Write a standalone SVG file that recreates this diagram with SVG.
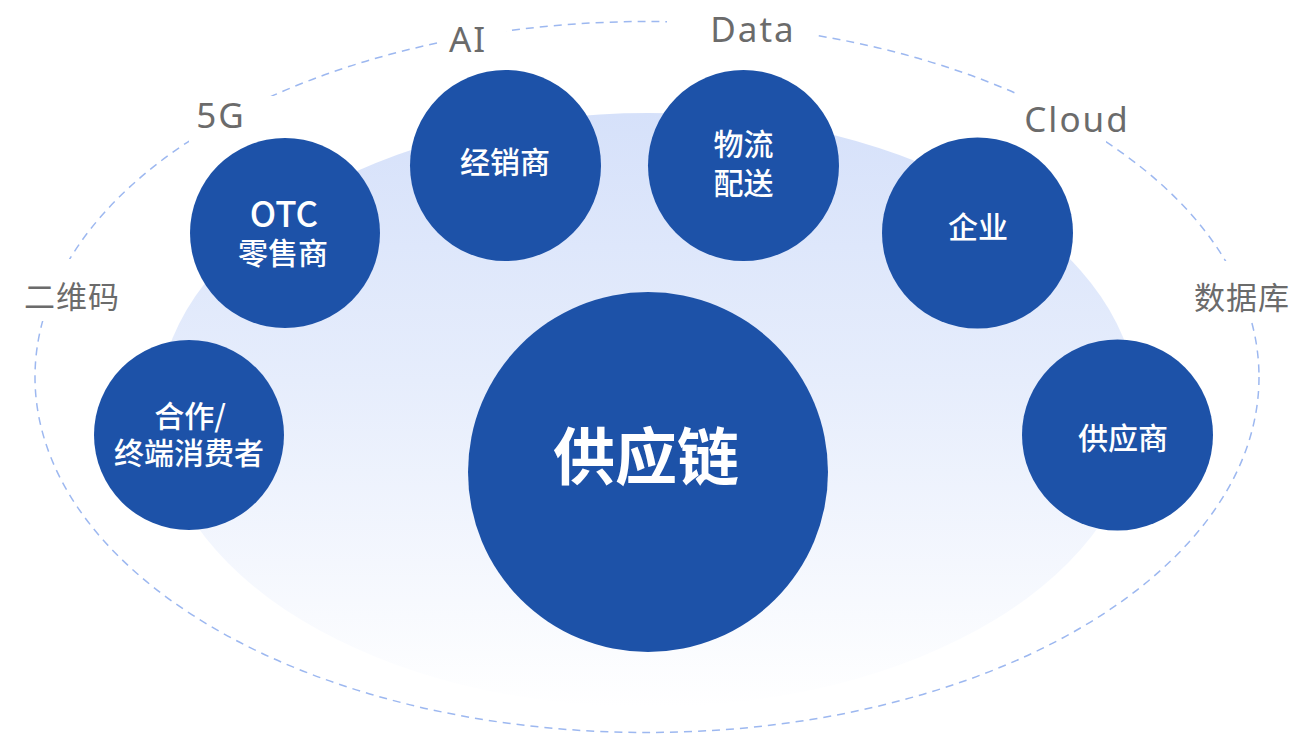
<svg xmlns="http://www.w3.org/2000/svg" width="1296" height="735" viewBox="0 0 1296 735">
  <style>
    .node { fill: #1d52a8; }
    .nt { fill: #ffffff; font-family: "Noto Sans CJK SC", "Noto Sans", sans-serif; font-size: 30px; font-weight: 500; text-anchor: middle; }
    .big { font-size: 62px; font-weight: 700; }
    .lbl { fill: #6b6b6b; font-family: "Noto Sans", "Noto Sans CJK SC", sans-serif; font-size: 35px; text-anchor: middle; letter-spacing: 2px; }
    .lblcn { font-family: "Noto Sans CJK SC", sans-serif; font-size: 31px; letter-spacing: 1px; }
    .ring { fill: none; stroke: #9db8f0; stroke-width: 1.5; stroke-dasharray: 8 6; }
  </style>
  <defs>
    <linearGradient id="bg" x1="0" y1="0" x2="0" y2="1">
      <stop offset="0" stop-color="#d6e1fa"/>
      <stop offset="0.45" stop-color="#e6edfc"/>
      <stop offset="1" stop-color="#ffffff"/>
    </linearGradient>
    <mask id="gaps" maskUnits="userSpaceOnUse" x="0" y="0" width="1296" height="735">
      <rect x="0" y="0" width="1296" height="735" fill="#fff"/>
      <rect x="438" y="8" width="68" height="52" fill="#000"/>
      <rect x="667" y="3" width="151" height="52" fill="#000"/>
      <rect x="189" y="96" width="88" height="46" fill="#000"/>
      <rect x="1016" y="88" width="90" height="56" fill="#000"/>
      <rect x="15" y="259" width="115" height="62" fill="#000"/>
      <rect x="1185" y="261" width="111" height="60" fill="#000"/>
    </mask>
  </defs>

  <g id="background">
    <ellipse cx="648" cy="410" rx="490" ry="297" fill="url(#bg)"/>
    <ellipse class="ring" cx="647" cy="377" rx="612" ry="355.5" mask="url(#gaps)"/>
  </g>

  <g id="connectors"></g>

  <g id="labels">
    <text class="lbl" x="468" y="52">AI</text>
    <text class="lbl" x="753" y="42">Data</text>
    <text class="lbl" x="221" y="128">5G</text>
    <text class="lbl" x="1077" y="132">Cloud</text>
    <text class="lbl lblcn" x="72" y="308">二维码</text>
    <text class="lbl lblcn" x="1242" y="309">数据库</text>
  </g>

  <g id="node-supply-chain">
    <circle class="node" cx="648" cy="472" r="180"/>
    <text class="nt big" x="646" y="480">供应链</text>
  </g>
  <g id="node-consumer">
    <circle class="node" cx="189" cy="435" r="95"/>
    <text class="nt"><tspan x="190" y="427">合作/</tspan><tspan x="189" y="464">终端消费者</tspan></text>
  </g>
  <g id="node-otc">
    <circle class="node" cx="285" cy="233" r="95"/>
    <text class="nt"><tspan x="284" y="227" style="font-size:35px">OTC</tspan><tspan x="283" y="264">零售商</tspan></text>
  </g>
  <g id="node-distributor">
    <circle class="node" cx="505.5" cy="165.5" r="95.5"/>
    <text class="nt" x="505" y="173">经销商</text>
  </g>
  <g id="node-logistics">
    <circle class="node" cx="743.5" cy="165.5" r="95.5"/>
    <text class="nt"><tspan x="743.5" y="155">物流</tspan><tspan x="743.5" y="194">配送</tspan></text>
  </g>
  <g id="node-enterprise">
    <circle class="node" cx="977.5" cy="233" r="95.5"/>
    <text class="nt" x="978" y="238">企业</text>
  </g>
  <g id="node-supplier">
    <circle class="node" cx="1117.5" cy="435" r="95.5"/>
    <text class="nt" x="1123" y="449">供应商</text>
  </g>
</svg>
